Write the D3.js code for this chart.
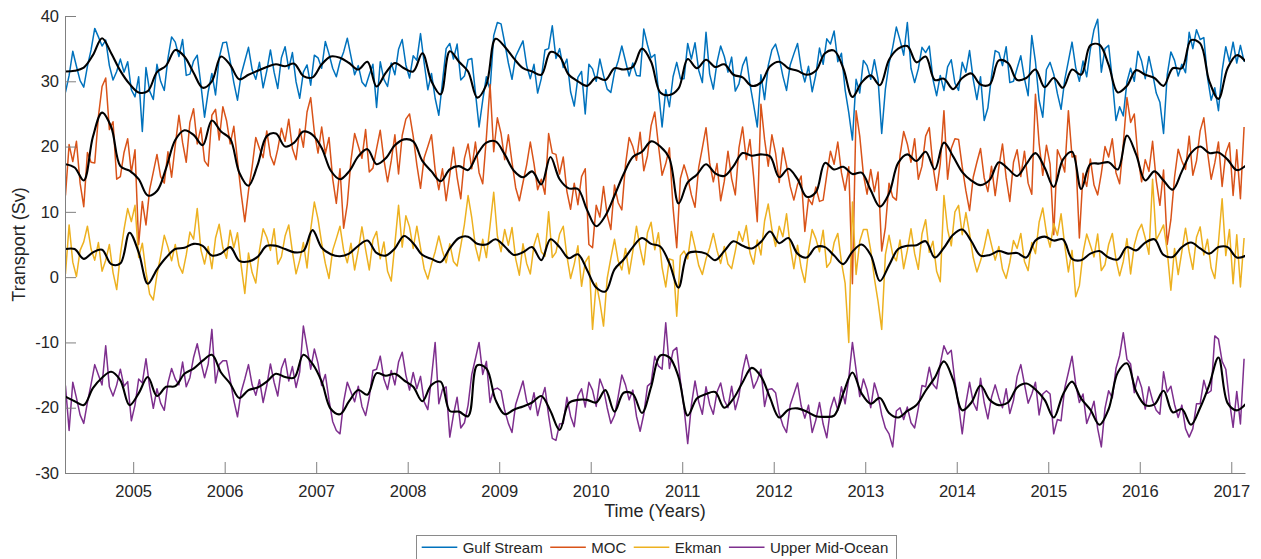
<!DOCTYPE html>
<html>
<head>
<meta charset="utf-8">
<script src="https://cdn.jsdelivr.net/npm/d3@7"></script>
<style>
body { margin: 0; background: #ffffff; }
svg text { font-family: 'Liberation Sans', Arial, Helvetica, sans-serif; fill: #262626; }
</style>
</head>
<body>
<div id="chart"></div>
<script>
// DATA (transport in Sv)
// raw series: one value every 0.04 yr from 2004.26
var rawStart = 2004.26;
var rawStep = 0.04;
// smoothed series: one value every 0.1 yr from 2004.26
var smoothStart = 2004.26;
var smoothStep = 0.1;

var gulfStream = [
  28.3, 30.9, 34.6, 32.3, 30.1, 29.1, 32.3, 34.8, 38.1, 36.8, 35.4, 36.3, 32.4, 30.2, 31.5, 33.4, 31.4, 33.0, 28.7,
  27.6, 30.7, 22.3, 32.1, 28.5, 27.2, 32.6, 30.0, 28.6, 33.5, 36.8, 36.0, 33.8, 36.4, 30.9, 31.1, 33.1, 34.0, 29.5, 24.5, 28.4, 31.2, 27.9, 33.6, 35.9,
  36.0, 33.1, 29.8, 27.1, 31.0, 33.1, 35.2, 31.8, 30.3, 32.9, 29.0, 31.6, 34.8, 31.4, 28.9, 33.6, 35.3, 31.9, 34.4, 29.9, 27.4, 31.4, 32.5, 29.4, 34.0,
  33.6, 32.0, 36.1, 34.2, 32.0, 30.7, 33.0, 34.5, 36.6, 33.8, 31.0, 32.4, 29.9, 29.2, 31.0, 32.6, 26.0, 33.0, 30.3, 29.2, 32.8, 31.0, 34.9, 36.4, 32.5,
  30.5, 33.9, 33.2, 37.3, 32.8, 28.7, 31.2, 27.4, 24.8, 29.9, 35.0, 35.8, 33.4, 35.7, 30.2, 30.8, 33.3, 33.5, 28.3, 23.0, 27.1, 30.7, 28.7, 37.0, 39.0,
  38.8, 35.9, 32.8, 30.3, 33.8, 35.0, 36.2, 32.4, 30.4, 32.6, 28.2, 30.4, 34.8, 35.0, 38.5, 33.5, 35.0, 32.1, 33.4, 28.4, 26.2, 30.6, 31.5, 25.0, 32.6,
  31.9, 30.0, 33.4, 30.9, 28.8, 28.3, 31.4, 33.1, 35.4, 33.1, 30.8, 32.8, 30.9, 30.8, 38.0, 35.6, 33.6, 34.1, 28.6, 23.0, 28.7, 26.1, 30.7, 32.9, 30.4,
  30.4, 35.8, 33.4, 35.9, 31.7, 29.8, 37.5, 31.1, 28.8, 32.9, 35.4, 33.8, 31.4, 33.7, 28.5, 29.6, 32.4, 33.7, 29.6, 26.4, 23.0, 31.0, 27.2, 32.4, 34.8,
  35.7, 33.6, 30.8, 28.6, 32.5, 34.2, 35.8, 32.0, 29.9, 32.3, 28.4, 31.0, 35.1, 32.6, 36.5, 35.7, 37.7, 33.0, 34.3, 28.7, 25.2, 21.0, 30.3, 28.2, 33.2,
  32.4, 30.3, 33.3, 30.3, 22.0, 28.8, 32.7, 35.2, 38.3, 36.3, 34.0, 39.0, 32.0, 29.8, 31.9, 35.2, 34.4, 35.4, 30.3, 27.8, 30.9, 28.6, 32.2, 33.3, 29.7,
  28.6, 32.9, 31.4, 34.7, 30.3, 27.2, 30.7, 24.0, 25.9, 30.8, 34.7, 34.4, 32.4, 35.3, 29.8, 30.0, 32.0, 33.9, 30.4, 27.8, 37.0, 33.0, 27.1, 24.5, 31.8,
  32.9, 31.1, 28.1, 25.7, 30.2, 33.1, 36.0, 32.1, 30.0, 33.1, 30.7, 34.9, 37.9, 39.5, 31.4, 35.0, 35.5, 30.2, 24.0, 26.1, 24.7, 29.9, 32.0, 30.0, 34.6,
  33.1, 30.4, 33.8, 31.2, 28.2, 26.8, 22.0, 31.0, 34.5, 33.2, 30.8, 32.6, 31.3, 37.5, 35.0, 37.9, 36.4, 36.7, 30.6, 27.1, 29.0, 25.5, 31.6, 35.3, 33.0,
  36.0, 32.8, 35.5, 33.0
];

var moc = [
  12.5, 20.3, 17.7, 20.8, 14.4, 10.8, 19.1, 17.6, 17.5, 24.6, 29.2, 30.5, 22.6, 23.8, 15.0, 15.4, 19.1, 21.2, 16.0,
  19.5, 5.0, 11.6, 8.0, 13.4, 16.1, 18.8, 15.4, 14.4, 19.2, 15.3, 20.2, 24.8, 20.6, 17.6, 23.7, 25.8, 20.4, 22.9, 17.8, 17.0, 24.8, 25.7, 21.0, 26.1,
  24.0, 20.4, 23.1, 17.8, 12.8, 8.5, 13.2, 16.9, 21.4, 19.7, 18.3, 22.4, 18.6, 17.2, 19.6, 22.8, 20.8, 24.2, 19.7, 18.0, 22.7, 19.9, 25.3, 27.5, 22.2,
  19.0, 23.0, 18.9, 21.4, 15.1, 11.3, 16.6, 7.5, 11.2, 17.9, 22.0, 20.1, 18.2, 22.6, 16.1, 16.7, 19.7, 22.5, 18.0, 14.6, 17.8, 21.8, 15.8, 21.7, 24.2,
  25.0, 21.6, 17.2, 13.6, 18.3, 20.0, 21.8, 16.4, 13.4, 16.6, 11.7, 15.7, 19.9, 15.3, 12.0, 18.2, 20.4, 16.6, 20.7, 16.0, 14.3, 21.4, 29.5, 19.2, 24.4,
  22.0, 18.0, 21.8, 17.6, 13.7, 11.7, 14.5, 17.2, 20.7, 17.4, 13.4, 15.0, 12.7, 22.0, 19.0, 18.8, 15.8, 18.4, 13.1, 10.4, 14.4, 11.1, 15.4, 16.6, 5.0,
  4.5, 11.0, 9.2, 13.9, 9.5, 7.3, 14.1, 11.4, 10.3, 17.2, 21.4, 20.0, 17.9, 22.2, 16.3, 18.6, 23.2, 25.3, 20.2, 15.6, 17.4, 19.8, 10.6, 4.5, 15.1,
  17.2, 15.3, 12.6, 10.7, 16.8, 19.8, 22.9, 17.5, 14.6, 17.4, 11.7, 14.7, 19.3, 15.1, 12.6, 19.8, 23.0, 18.0, 21.1, 15.4, 8.5, 26.5, 21.1, 17.0, 21.8,
  19.0, 14.5, 19.8, 17.1, 13.9, 11.8, 14.2, 15.5, 7.0, 12.0, 11.1, 13.8, 11.6, 11.8, 15.7, 19.3, 17.3, 20.7, 16.0, 13.3, 16.9, -1.0, 25.5, 21.6, 15.7,
  12.7, 16.5, 13.1, 16.1, 4.0, 7.6, 14.4, 12.3, 11.8, 18.6, 22.3, 20.4, 17.6, 21.2, 15.0, 17.0, 21.6, 22.9, 17.0, 13.3, 17.4, 25.5, 15.0, 19.7, 21.2,
  21.1, 16.9, 13.2, 10.2, 15.3, 17.6, 19.7, 15.2, 13.1, 17.0, 12.5, 16.8, 20.4, 15.2, 11.6, 17.6, 19.5, 15.4, 19.3, 14.4, 12.7, 28.0, 20.5, 15.6, 20.2,
  17.3, 6.5, 19.5, 18.1, 16.1, 25.5, 18.4, 18.6, 6.0, 15.9, 13.9, 18.1, 14.1, 12.6, 15.9, 20.0, 18.4, 21.2, 16.0, 14.3, 20.4, 27.5, 23.7, 25.0, 18.4,
  14.6, 18.0, 16.2, 20.8, 14.8, 11.0, 16.4, 5.0, 8.8, 15.3, 19.6, 17.8, 16.5, 21.6, 15.6, 17.8, 22.4, 24.4, 19.2, 15.0, 17.5, 20.7, 13.9, 19.0, 20.6,
  12.5, 19.5, 12.0, 23.0
];

var ekman = [
  0.5, 8.0, 2.3, 0.1, 4.1, 5.4, 7.8, 4.3, 2.6, 5.3, 0.9, 2.6, 5.0, 0.7, -1.9, 3.4, 7.3, 10.5, 8.5,
  11.0, 3.0, 5.2, 0.8, -2.6, -3.5, 0.4, 3.2, 6.4, 4.6, 2.5, 5.0, 1.8, 0.6, 3.4, 6.9, 5.8, 10.5, 4.2, 2.0, 4.7, 1.3, 6.0, 8.1, 4.5,
  2.9, 7.2, 4.5, 6.8, 1.8, -2.5, 3.7, 0.7, -0.9, 4.1, 7.4, 6.1, 4.1, 7.4, 2.0, 3.1, 6.3, 8.0, 3.9, 0.5, 2.6, 5.3, 1.4, 7.3, 11.5,
  8.9, 5.2, 2.1, -0.2, 4.1, 5.9, 7.8, 4.1, 2.2, 5.2, 1.1, 4.1, 7.7, 4.2, 1.1, 5.7, 7.0, 2.8, 5.4, 0.9, -0.6, 5.1, 11.0, 4.6, 9.4,
  7.7, 4.4, 7.8, 4.5, 1.3, -0.3, 2.0, 3.9, 6.3, 4.0, 2.2, 5.1, 2.4, 1.7, 4.8, 8.1, 12.5, 9.1, 4.7, 2.5, 5.8, 3.0, 7.9, 13.0, 6.3,
  3.9, 7.3, 4.9, 7.6, 2.8, 0.3, 5.1, 2.1, 0.5, 4.9, 6.7, 3.9, 3.2, 10.0, 3.0, 3.8, 6.6, 7.8, 3.2, -0.2, 2.0, 4.8, -1.4, 2.3, 3.2,
  -8.0, -0.9, -3.8, -7.5, -0.2, 2.9, 5.8, 2.5, 1.1, 4.4, 0.5, 3.9, 7.8, 4.4, 1.9, 6.8, 8.4, 4.2, 6.8, 1.5, -1.5, 2.8, 2.6, -6.0, 3.3,
  4.0, 2.8, 7.0, 4.6, 1.8, 0.4, 2.8, 4.5, 6.7, 4.1, 2.1, 4.7, 2.0, 1.3, 4.0, 7.0, 5.5, 7.9, 3.7, 2.0, 5.7, 3.4, 8.6, 11.2, 7.3,
  4.7, 7.8, 6.2, 9.7, 4.8, 1.3, 4.9, 1.4, -0.8, 4.0, 7.3, 5.9, 3.9, 7.2, 1.5, 2.3, 5.3, 6.7, 2.3, -0.9, -10.0, 11.5, 0.4, 5.5, 7.3,
  7.3, 4.1, -0.2, -3.7, -8.0, 3.4, 6.4, 3.5, 2.5, 5.7, 1.3, 4.1, 7.4, 3.6, 1.2, 6.6, 8.8, 3.8, 5.5, 0.9, -0.7, 12.5, 7.3, 4.8, 10.0,
  11.0, 6.5, 9.9, 6.7, 3.0, 0.8, 2.5, 4.6, 7.3, 4.9, 2.6, 4.7, 1.2, -0.2, 2.3, 5.6, 4.4, 6.7, 2.4, 1.0, 5.3, 3.6, 8.4, 10.6, 6.8,
  4.6, 8.2, 6.4, 9.7, 4.9, 0.8, 4.1, -3.0, -1.3, 3.7, 6.6, 4.9, 3.1, 6.6, 1.0, 1.9, 5.0, 6.7, 2.7, 0.2, 2.4, 5.9, 0.5, 4.9, 7.0,
  8.1, 6.0, 3.5, 15.0, 5.7, 6.8, 8.0, 4.0, -2.0, 4.4, 0.4, 3.9, 7.5, 3.9, 1.2, 6.1, 7.7, 3.4, 5.8, 1.4, -0.2, 5.3, 12.0, 3.3, 7.3,
  -1.0, 6.5, -1.5, 6.0
];

var upperMidOcean = [
  -16.6, -23.5, -16.1, -18.5, -21.1, -22.4, -19.2, -16.4, -13.4, -15.0, -16.5, -10.5, -16.8, -18.2, -16.5, -14.1, -16.7, -16.0, -22.0,
  -19.6, -15.6, -16.2, -12.5, -16.8, -20.1, -17.1, -19.3, -20.4, -16.2, -14.0, -15.6, -16.5, -13.0, -16.8, -15.4, -12.3, -10.2, -13.0, -15.4, -13.3, -8.0, -16.2, -13.4, -12.8,
  -12.8, -15.7, -18.9, -21.4, -17.6, -15.6, -13.4, -16.5, -18.1, -15.7, -19.2, -16.6, -13.3, -16.1, -18.2, -14.0, -12.5, -15.9, -13.7, -16.9, -14.5, -7.5, -10.8, -14.1, -11.0,
  -13.2, -16.6, -14.9, -18.8, -22.1, -23.5, -24.0, -19.1, -16.1, -17.6, -19.1, -16.7, -19.8, -21.2, -18.4, -14.3, -14.1, -12.1, -15.6, -17.2, -14.3, -16.5, -13.0, -11.5, -15.0,
  -17.3, -14.6, -17.1, -15.2, -19.1, -20.3, -15.4, -10.0, -19.4, -17.2, -16.8, -24.5, -21.1, -18.4, -23.1, -22.3, -19.6, -14.9, -12.5, -10.0, -14.9, -12.9, -19.2, -17.2, -17.0,
  -17.4, -20.4, -22.4, -23.8, -19.5, -17.7, -15.9, -19.0, -20.3, -17.7, -21.2, -18.8, -16.9, -21.2, -24.7, -25.0, -22.5, -22.4, -18.4, -21.3, -22.9, -18.2, -17.1, -19.9, -16.1,
  -17.3, -19.8, -15.6, -17.1, -20.0, -22.4, -21.2, -18.3, -15.0, -16.5, -18.8, -17.3, -21.3, -23.6, -21.0, -16.7, -16.2, -12.1, -13.6, -14.1, -7.0, -14.0, -11.3, -10.8, -15.9,
  -20.0, -25.5, -19.6, -15.9, -19.1, -21.0, -16.8, -19.5, -21.0, -17.6, -16.2, -18.9, -20.0, -16.7, -20.3, -18.2, -14.4, -11.9, -14.3, -17.0, -15.8, -14.1, -19.8, -17.2, -17.1,
  -17.7, -20.9, -22.7, -23.8, -19.6, -17.9, -16.2, -19.7, -21.6, -19.6, -23.8, -21.9, -19.2, -22.5, -24.6, -20.2, -18.4, -20.4, -16.8, -19.4, -15.5, -10.0, -14.2, -18.3, -15.6,
  -17.3, -20.0, -16.2, -18.1, -21.1, -23.1, -24.0, -26.0, -20.5, -20.0, -21.8, -19.9, -22.3, -23.1, -20.1, -16.6, -16.8, -13.8, -16.4, -17.1, -13.3, -10.5, -11.8, -11.2, -16.0,
  -19.6, -24.0, -19.3, -16.1, -19.2, -20.4, -15.5, -19.2, -21.7, -18.4, -16.5, -18.5, -20.0, -17.1, -20.9, -18.9, -15.2, -13.4, -16.4, -19.3, -17.9, -16.1, -21.1, -17.9, -17.4,
  -17.9, -24.0, -21.8, -22.0, -17.0, -14.6, -12.1, -16.4, -19.2, -17.9, -22.4, -20.9, -19.0, -23.2, -26.0, -20.1, -17.4, -18.5, -14.0, -12.0, -8.5, -12.6, -13.3, -17.7, -15.2,
  -16.9, -20.2, -16.8, -18.9, -20.4, -21.0, -14.5, -17.6, -16.7, -19.5, -21.5, -19.6, -23.2, -24.5, -23.2, -19.4, -19.4, -15.8, -17.8, -17.4, -9.0, -9.5, -12.9, -14.1, -19.0,
  -23.0, -17.5, -22.5, -12.5
];

// low-passed versions (black lines)
var gulfStreamSmooth = [
  31.5, 31.6, 32.1, 34.0, 36.6, 34.3, 31.6, 29.6, 28.3, 28.5,
  31.4, 32.4, 34.8, 33.8, 31.3, 29.0, 30.0, 33.8, 32.5, 30.3,
  31.0, 31.6, 32.2, 32.6, 32.3, 32.7, 30.8, 30.6, 32.6, 33.8,
  33.6, 32.8, 31.8, 33.0, 29.2, 31.3, 32.8, 32.0, 31.5, 34.3,
  30.0, 28.0, 34.6, 33.0, 31.5, 27.5, 29.5, 36.5, 35.3, 33.5,
  32.0, 31.5, 31.0, 34.5, 33.8, 31.0, 30.0, 29.3, 30.6, 30.2,
  32.0, 31.8, 32.2, 35.0, 33.0, 28.3, 27.9, 28.9, 33.4, 32.0,
  33.3, 32.2, 32.6, 31.0, 30.6, 29.3, 29.8, 32.3, 33.0, 32.0,
  31.6, 31.0, 31.6, 34.3, 34.7, 32.0, 27.6, 29.8, 30.9, 29.4,
  33.3, 35.0, 35.4, 32.9, 33.8, 30.2, 30.4, 28.8, 30.5, 31.2,
  29.5, 29.5, 33.2, 32.8, 30.2, 30.5, 31.8, 29.1, 30.5, 29.0,
  31.8, 31.0, 35.5, 35.6, 32.5, 28.3, 29.3, 31.7, 31.0, 30.5,
  29.3, 32.0, 32.0, 36.3, 35.8, 30.0, 27.3, 32.0, 34.0, 33.0
];

var mocSmooth = [
  17.3, 16.8, 14.8, 21.5, 25.2, 23.0, 17.0, 16.3, 15.0, 12.5,
  13.2, 16.7, 21.0, 22.5, 21.8, 20.2, 24.0, 22.3, 21.2, 16.0,
  14.0, 17.2, 21.6, 22.0, 20.0, 20.6, 22.3, 21.8, 19.8, 16.3,
  15.0, 16.2, 18.5, 19.6, 17.3, 18.2, 20.2, 21.1, 20.8, 17.8,
  16.2, 14.7, 16.5, 17.0, 16.4, 18.8, 20.6, 20.8, 18.8, 16.3,
  15.3, 16.2, 14.2, 18.4, 15.0, 13.6, 13.5, 10.3, 7.8, 9.4,
  12.5, 15.8, 18.4, 19.2, 20.8, 20.0, 18.2, 11.3, 14.5, 15.7,
  17.3, 15.9, 15.5, 17.0, 19.0, 18.6, 18.8, 18.5, 15.3, 16.6,
  15.0, 12.3, 13.0, 17.5, 16.5, 16.9, 15.8, 16.0, 13.3, 10.8,
  12.8, 17.5, 18.8, 17.8, 19.2, 16.5, 20.6, 18.5, 16.1, 14.8,
  14.1, 14.9, 17.6, 16.6, 15.5, 17.3, 19.0, 16.8, 13.8, 18.0,
  19.2, 13.5, 17.3, 17.4, 17.6, 16.5, 21.7, 18.8, 14.8, 16.2,
  14.8, 13.4, 16.2, 19.0, 20.0, 19.0, 19.1, 18.0, 16.4, 17.1
];

var ekmanSmooth = [
  4.3, 4.3, 2.8, 3.8, 4.2, 2.0, 2.1, 6.8, 3.8, -1.0,
  1.2, 3.0, 4.3, 4.5, 5.1, 4.8, 3.3, 3.6, 4.6, 2.5,
  2.4, 3.1, 4.8, 4.8, 4.3, 3.8, 4.0, 7.2, 4.5, 3.5,
  3.2, 3.6, 4.8, 5.6, 3.7, 3.3, 4.4, 6.3, 5.2, 3.4,
  2.8, 2.3, 4.4, 6.0, 6.2, 5.1, 5.0, 5.8, 4.7, 3.4,
  3.8, 4.6, 2.6, 5.8, 4.6, 2.9, 3.5, 1.1, -1.6, -2.2,
  1.2, 2.7, 4.6, 6.0, 5.1, 4.7, 2.1, -1.6, 3.6, 3.9,
  3.6, 2.6, 4.0, 5.5, 4.8, 4.4, 5.4, 7.0, 5.2, 6.0,
  3.6, 3.0, 4.6, 4.6, 3.3, 2.0, 3.9, 5.0, 3.4, -0.6,
  1.8, 4.3, 4.8, 4.9, 5.5, 3.0, 4.5, 6.5, 7.3, 5.5,
  3.3, 3.4, 4.0, 3.6, 3.7, 3.0, 5.6, 6.2, 5.6, 5.8,
  2.8, 2.6, 3.6, 4.0, 3.0, 2.7, 4.6, 4.1, 5.3, 5.8,
  3.4, 3.1, 4.6, 5.3, 4.4, 3.6, 4.6, 4.6, 3.0, 3.3
];

var upperMidOceanSmooth = [
  -18.3, -19.0, -19.6, -17.0, -15.4, -14.5, -15.8, -19.6, -17.8, -15.3,
  -18.2, -16.8, -16.7, -14.8, -14.0, -12.8, -11.9, -14.6, -16.3, -18.5,
  -17.3, -16.9, -16.0, -14.8, -15.3, -15.4, -11.9, -13.3, -16.0, -20.2,
  -21.0, -19.0, -17.3, -18.0, -14.7, -15.1, -14.8, -15.8, -16.8, -19.0,
  -16.5, -16.0, -20.5, -20.6, -21.3, -13.5, -14.0, -18.8, -21.0, -20.3,
  -19.8, -19.2, -18.2, -20.5, -23.4, -19.3, -18.8, -18.8, -19.2, -17.3,
  -20.6, -17.7, -17.9, -20.8, -16.8, -12.0, -12.3, -15.3, -21.2, -18.6,
  -17.9, -17.6, -20.0, -18.6, -16.1, -13.9, -15.2, -18.5, -21.5, -20.3,
  -20.1, -20.6, -21.3, -21.4, -21.2, -17.8, -14.6, -17.8, -19.4, -18.5,
  -20.8, -21.5, -20.5, -19.6, -17.4, -15.4, -12.9, -15.7, -20.4, -19.2,
  -16.6, -18.8, -19.6, -19.2, -16.9, -16.3, -17.2, -18.8, -21.5, -18.0,
  -16.0, -18.6, -20.3, -22.6, -20.2, -14.6, -13.2, -17.5, -19.6, -19.5,
  -17.4, -20.7, -20.2, -22.6, -20.0, -16.5, -12.3, -19.3, -20.4, -19.4
];

var seriesNames = ["Gulf Stream", "MOC", "Ekman", "Upper Mid-Ocean"];
var seriesColors = ["#0072bd", "#d95319", "#edb120", "#7e2f8e"];
var yearTicks = [2005, 2006, 2007, 2008, 2009, 2010, 2011, 2012, 2013, 2014, 2015, 2016, 2017];
var transportTicks = [-30, -20, -10, 0, 10, 20, 30, 40];
var yearDomain = [2004.255, 2017.15];
var transportDomain = [-30, 40];

// LAYOUT
var width = 1261;
var height = 559;
var margin = {left: 65, right: 16, top: 16, bottom: 86};
var fontFamily = "'Liberation Sans', Arial, Helvetica, sans-serif";
var axisColor = "#808080";

var x = d3.scaleLinear().domain(yearDomain).range([margin.left, width - margin.right]);
var y = d3.scaleLinear().domain(transportDomain).range([height - margin.bottom, margin.top]);

var svg = d3.select("#chart").append("svg")
  .attr("width", width)
  .attr("height", height);

svg.append("defs").append("clipPath")
  .attr("id", "plot-clip")
  .append("rect")
  .attr("x", margin.left)
  .attr("y", 0)
  .attr("width", width - margin.left - margin.right)
  .attr("height", height - margin.bottom);

function toPoints(values, start, step) {
  return values.map(function(v, i) { return [start + i * step, v]; });
}

var rawLine = d3.line()
  .x(function(d) { return x(d[0]); })
  .y(function(d) { return y(d[1]); });

var smoothLine = d3.line()
  .x(function(d) { return x(d[0]); })
  .y(function(d) { return y(d[1]); })
  .curve(d3.curveCatmullRom.alpha(0.5));

var rawSeries = [gulfStream, moc, ekman, upperMidOcean];
var smoothSeries = [gulfStreamSmooth, mocSmooth, ekmanSmooth, upperMidOceanSmooth];

var plot = svg.append("g").attr("clip-path", "url(#plot-clip)");

plot.selectAll("path.raw")
  .data(rawSeries)
  .enter().append("path")
  .attr("class", "raw")
  .attr("d", function(d) { return rawLine(toPoints(d, rawStart, rawStep)); })
  .attr("fill", "none")
  .attr("stroke", function(d, i) { return seriesColors[i]; })
  .attr("stroke-width", 1.5)
  .attr("stroke-linejoin", "round");

plot.selectAll("path.smooth")
  .data(smoothSeries)
  .enter().append("path")
  .attr("class", "smooth")
  .attr("d", function(d) { return smoothLine(toPoints(d, smoothStart, smoothStep)); })
  .attr("fill", "none")
  .attr("stroke", "#000000")
  .attr("stroke-width", 2.1)
  .attr("stroke-linejoin", "round");

// AXES
var xAxis = svg.append("g")
  .attr("transform", `translate(0,${height - margin.bottom})`)
  .call(d3.axisBottom(x)
    .tickValues(yearTicks)
    .tickFormat(function(d) { return String(d); })
    .tickSizeInner(-11)
    .tickSizeOuter(0)
    .tickPadding(12));

var yAxis = svg.append("g")
  .attr("transform", `translate(${margin.left},0)`)
  .call(d3.axisLeft(y)
    .tickValues(transportTicks)
    .tickFormat(function(d) { return String(d); })
    .tickSizeInner(-11)
    .tickSizeOuter(0)
    .tickPadding(6));

[xAxis, yAxis].forEach(function(g) {
  g.attr("font-family", fontFamily).attr("font-size", 16.5);
  g.selectAll("path.domain").attr("stroke", axisColor);
  g.selectAll(".tick line").attr("stroke", axisColor);
  g.selectAll(".tick text").attr("fill", "#262626");
});

svg.append("text")
  .attr("x", (margin.left + width - margin.right) / 2)
  .attr("y", 516.5)
  .attr("text-anchor", "middle")
  .attr("font-size", 18)
  .text("Time (Years)");

svg.append("text")
  .attr("transform", `translate(25,${(margin.top + height - margin.bottom) / 2}) rotate(-90)`)
  .attr("text-anchor", "middle")
  .attr("font-size", 18)
  .text("Transport (Sv)");

// LEGEND
var legend = svg.append("g");
legend.append("rect")
  .attr("x", 416.5)
  .attr("y", 535.5)
  .attr("width", 480)
  .attr("height", 24)
  .attr("fill", "#ffffff")
  .attr("stroke", "#8a8a8a")
  .attr("stroke-width", 1);

var legendX = 421.7;
seriesNames.forEach(function(name, i) {
  legend.append("line")
    .attr("x1", legendX)
    .attr("x2", legendX + 35.6)
    .attr("y1", 547.3)
    .attr("y2", 547.3)
    .attr("stroke", seriesColors[i])
    .attr("stroke-width", 1.5);
  var label = legend.append("text")
    .attr("x", legendX + 41)
    .attr("y", 552.6)
    .attr("font-size", 15)
    .text(name);
  legendX = legendX + 41 + label.node().getComputedTextLength() + 7.5;
});
</script>
</body>
</html>
